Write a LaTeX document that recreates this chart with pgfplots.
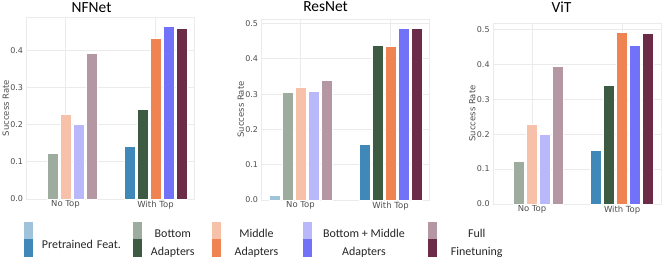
\documentclass[border=0pt]{standalone}
\usepackage{fontspec}
\setmainfont{DejaVu Sans}
\newfontfamily\carlito{Carlito}
\usepackage{pgfplots}
\pgfplotsset{compat=1.18}

\definecolor{cP}{HTML}{3F88B8}
\definecolor{cB}{HTML}{3D5A42}
\definecolor{cM}{HTML}{EF8452}
\definecolor{cBM}{HTML}{7272F8}
\definecolor{cF}{HTML}{6C2C47}
\definecolor{gridc}{HTML}{EBEBEB}
\definecolor{tickc}{HTML}{4D4D4D}

\newcommand\lt[4]{\raisebox{-#3bp}[0pt][0pt]{\makebox[#1bp][l]{\hspace{#2bp}\makebox[0pt]{#4}}}}

\pgfplotsset{
  bb/.style 2 args={ybar, bar width=11bp, bar shift=#1, fill=#2, draw=white, line width=0.8bp},
  panel/.style={
    scale only axis, width=168bp,
    xmin=-0.43, xmax=1.435, ymin=0,
    xtick={0,1}, xticklabels={No Top, With Top},
    ytick={0,0.1,0.2,0.3,0.4,0.5},
    scaled y ticks=false,
    /pgf/number format/assume math mode=true,
    yticklabel style={/pgf/number format/.cd, fixed, fixed zerofill, precision=1, /tikz/.cd, inner sep=0pt, xshift=-3.5bp, font=\fontsize{8}{9}\selectfont, text=tickc},
    xticklabel style={inner sep=0pt, yshift=-1.5bp, font=\fontsize{8.5}{10}\selectfont, text=tickc},
    major tick length=0pt,
    xmajorgrids, ymajorgrids,
    grid style={draw=gridc, line width=0.8bp},
    axis line style={draw=gridc, line width=0.8bp},
    ylabel={Success Rate},
    every axis y label/.style={at={(rel axis cs:-0.125,0.5)}, rotate=90, anchor=center, font=\fontsize{8.5}{10}\selectfont, text=tickc},
  },
}

\begin{document}
\begin{tikzpicture}
% ---------------- NFNet
\begin{axis}[panel, at={(26.7bp,-199bp)}, anchor=south west, height=182bp, ymax=0.49,
  title={NFNet},
  every axis title/.style={at={(rel axis cs:0.386,1.0238)}, anchor=base, font=\carlito\fontsize{15.5}{18}\selectfont}]
\addplot[bb={-13bp}{cB!50!white}]  coordinates {(0,0.124)};
\addplot[bb={0bp}{cM!50!white}]    coordinates {(0,0.229)};
\addplot[bb={13bp}{cBM!50!white}]  coordinates {(0,0.200)};
\addplot[bb={26bp}{cF!50!white}]   coordinates {(0,0.392)};
\addplot[bb={-26bp}{cP}]  coordinates {(1,0.141)};
\addplot[bb={-13bp}{cB}]  coordinates {(1,0.240)};
\addplot[bb={0bp}{cM}]    coordinates {(1,0.432)};
\addplot[bb={13bp}{cBM}]  coordinates {(1,0.466)};
\addplot[bb={26bp}{cF}]   coordinates {(1,0.459)};
\end{axis}
% ---------------- ResNet
\begin{axis}[panel, at={(261.7bp,-200bp)}, anchor=south west, height=181bp, ymax=0.513,
  title={ResNet},
  every axis title/.style={at={(rel axis cs:0.38,1.040)}, anchor=base, font=\carlito\fontsize{15.5}{18}\selectfont}]
\addplot[bb={-26bp}{cP!50!white}]  coordinates {(0,0.013)};
\addplot[bb={-13bp}{cB!50!white}]  coordinates {(0,0.305)};
\addplot[bb={0bp}{cM!50!white}]    coordinates {(0,0.320)};
\addplot[bb={13bp}{cBM!50!white}]  coordinates {(0,0.308)};
\addplot[bb={26bp}{cF!50!white}]   coordinates {(0,0.340)};
\addplot[bb={-26bp}{cP}]  coordinates {(1,0.159)};
\addplot[bb={-13bp}{cB}]  coordinates {(1,0.439)};
\addplot[bb={0bp}{cM}]    coordinates {(1,0.436)};
\addplot[bb={13bp}{cBM}]  coordinates {(1,0.485)};
\addplot[bb={26bp}{cF}]   coordinates {(1,0.487)};
\end{axis}
% ---------------- ViT
\begin{axis}[panel, at={(493.3bp,-204bp)}, anchor=south west, height=181bp, ymax=0.518,
  title={ViT},
  every axis title/.style={at={(rel axis cs:0.4065,1.0586)}, anchor=base, font=\carlito\fontsize{15.5}{18}\selectfont}]
\addplot[bb={-13bp}{cB!50!white}]  coordinates {(0,0.122)};
\addplot[bb={0bp}{cM!50!white}]    coordinates {(0,0.229)};
\addplot[bb={13bp}{cBM!50!white}]  coordinates {(0,0.200)};
\addplot[bb={26bp}{cF!50!white}]   coordinates {(0,0.393)};
\addplot[bb={-26bp}{cP}]  coordinates {(1,0.153)};
\addplot[bb={-13bp}{cB}]  coordinates {(1,0.340)};
\addplot[bb={0bp}{cM}]    coordinates {(1,0.492)};
\addplot[bb={13bp}{cBM}]  coordinates {(1,0.454)};
\addplot[bb={26bp}{cF}]   coordinates {(1,0.487)};
\end{axis}
% ---------------- Legend
\begin{axis}[at={(0bp,-261bp)}, anchor=south west, scale only axis, width=665bp, height=261bp,
  xmin=0, xmax=665, ymin=-261, ymax=0, hide axis, legend columns=5,
  legend image code/.code={\path (0bp,-8.75bp) rectangle (9bp,8.75bp); \fill (0bp,-5.3bp) rectangle (9bp,5.3bp);},
  legend style={at={(axis cs:24,-221.55)}, anchor=north west, draw=none, fill=none,
    inner sep=0pt, inner xsep=0pt, inner ysep=0pt, outer sep=0pt, column sep=0pt, row sep=0pt,
    font=\carlito\fontsize{12}{14}\selectfont, text=black!85,
    nodes={inner sep=0pt, text depth=0pt, text height=0pt}, cells={anchor=center}}]
\addlegendimage{fill=cP!50!white, draw=none}
\addlegendentry{\lt{100.3}{48.4}{7.6}{}}
\addlegendimage{fill=cB!50!white, draw=none}
\addlegendentry{\lt{70}{30.5}{7.6}{Bottom}}
\addlegendimage{fill=cM!50!white, draw=none}
\addlegendentry{\lt{82}{35.2}{7.6}{Middle}}
\addlegendimage{fill=cBM!50!white, draw=none}
\addlegendentry{\lt{115.4}{51.7}{7.6}{Bottom + Middle}}
\addlegendimage{fill=cF!50!white, draw=none}
\addlegendentry{\lt{80}{40}{7.6}{Full}}
\addlegendimage{fill=cP, draw=none}
\addlegendentry{\lt{100.3}{48.4}{0.7}{Pretrained\hspace{4bp}Feat.}}
\addlegendimage{fill=cB, draw=none}
\addlegendentry{\lt{70}{30.5}{7.6}{Adapters}}
\addlegendimage{fill=cM, draw=none}
\addlegendentry{\lt{82}{35.2}{7.6}{Adapters}}
\addlegendimage{fill=cBM, draw=none}
\addlegendentry{\lt{115.4}{51.7}{7.6}{Adapters}}
\addlegendimage{fill=cF, draw=none}
\addlegendentry{\lt{80}{40}{7.6}{Finetuning}}
\end{axis}
\pgfresetboundingbox
\path[use as bounding box] (0bp,0bp) rectangle (665bp,-261bp);
\end{tikzpicture}
\end{document}
